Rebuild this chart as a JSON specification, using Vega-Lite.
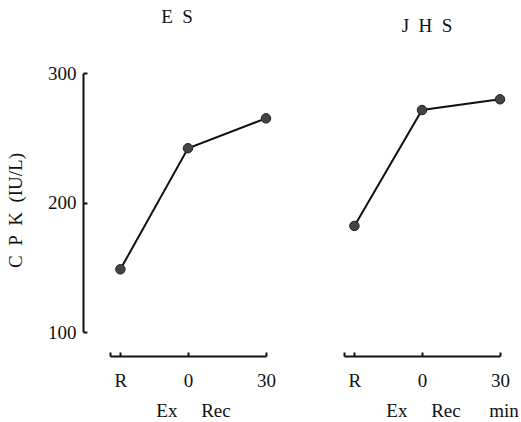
{
  "$schema": "https://vega.github.io/schema/vega-lite/v6.json",
  "autosize": {"type": "none"},
  "padding": {"left": 110, "top": 73, "right": 411, "bottom": 349},
  "background": "white",
  "config": {
    "font": "Liberation Serif",
    "view": {"stroke": null},
    "axis": {"labelFont": "Liberation Serif", "titleFont": "Liberation Serif", "labelColor": "#111", "titleColor": "#111", "domainColor": "#111", "tickColor": "#111", "grid": false, "labelFontSize": 19, "titleFontSize": 19, "titleFontWeight": "normal", "domainWidth": 2, "tickWidth": 2},
    "title": {"font": "Liberation Serif", "fontSize": 19, "fontWeight": "normal", "color": "#111"}
  },
  "datasets": {
    "es": [
      {"phase": "R", "t": -26, "cpk": 148.4},
      {"phase": "0", "t": 0, "cpk": 241.9},
      {"phase": "30", "t": 30, "cpk": 265.0}
    ],
    "jhs": [
      {"phase": "R", "t": -26, "cpk": 181.9},
      {"phase": "0", "t": 0, "cpk": 271.4},
      {"phase": "30", "t": 30, "cpk": 279.7}
    ]
  },
  "spacing": 78,
  "bounds": "flush",
  "hconcat": [
    {
      "width": 156,
      "height": 259,
      "title": {"text": "E\u2002S", "frame": "group", "anchor": "middle", "dx": -11, "offset": 22, "baseline": "alphabetic"},
      "data": {"name": "es"},
      "encoding": {
        "x": {"field": "t", "type": "quantitative", "scale": {"domain": [-30, 30], "nice": false, "zero": false},
          "axis": {"values": [-30, -26, 0, 30], "labelExpr": "datum.value == -30 ? '' : datum.value == -26 ? 'R' : datum.label", "tickSize": -4, "offset": 24, "labelPadding": 19, "labelFlush": false,
            "title": "Ex\u00a0\u00a0\u00a0\u00a0\u00a0Rec", "titleX": 83, "titleY": 60, "titleBaseline": "alphabetic"}},
        "y": {"field": "cpk", "type": "quantitative", "scale": {"domain": [100, 300], "nice": false, "zero": false},
          "axis": {"values": [100, 200, 300], "tickSize": -4, "offset": 27, "labelPadding": 11, "title": "C\u2002P\u2002K\u2002(IU/L)", "titleX": -58, "titleY": 137}}
      },
      "layer": [
        {"mark": {"type": "line", "color": "#111", "strokeWidth": 2}},
        {"mark": {"type": "point", "filled": true, "size": 90, "fill": "#444", "stroke": "#222", "strokeWidth": 1, "opacity": 1}}
      ]
    },
    {
      "width": 156,
      "height": 259,
      "title": {"text": "J\u2002H\u2002S", "frame": "group", "anchor": "middle", "dx": 5, "offset": 22, "baseline": "alphabetic"},
      "data": {"name": "jhs"},
      "encoding": {
        "x": {"field": "t", "type": "quantitative", "scale": {"domain": [-30, 30], "nice": false, "zero": false},
          "axis": {"values": [-30, -26, 0, 30], "labelExpr": "datum.value == -30 ? '' : datum.value == -26 ? 'R' : datum.label", "tickSize": -4, "offset": 24, "labelPadding": 19, "labelFlush": false,
            "title": "Ex\u00a0\u00a0\u00a0\u00a0\u00a0Rec\u00a0\u00a0\u00a0\u00a0\u00a0\u00a0min", "titleX": 108, "titleY": 60, "titleBaseline": "alphabetic"}},
        "y": {"field": "cpk", "type": "quantitative", "scale": {"domain": [100, 300], "nice": false, "zero": false}, "axis": null}
      },
      "layer": [
        {"mark": {"type": "line", "color": "#111", "strokeWidth": 2}},
        {"mark": {"type": "point", "filled": true, "size": 90, "fill": "#444", "stroke": "#222", "strokeWidth": 1, "opacity": 1}}
      ]
    }
  ]
}
